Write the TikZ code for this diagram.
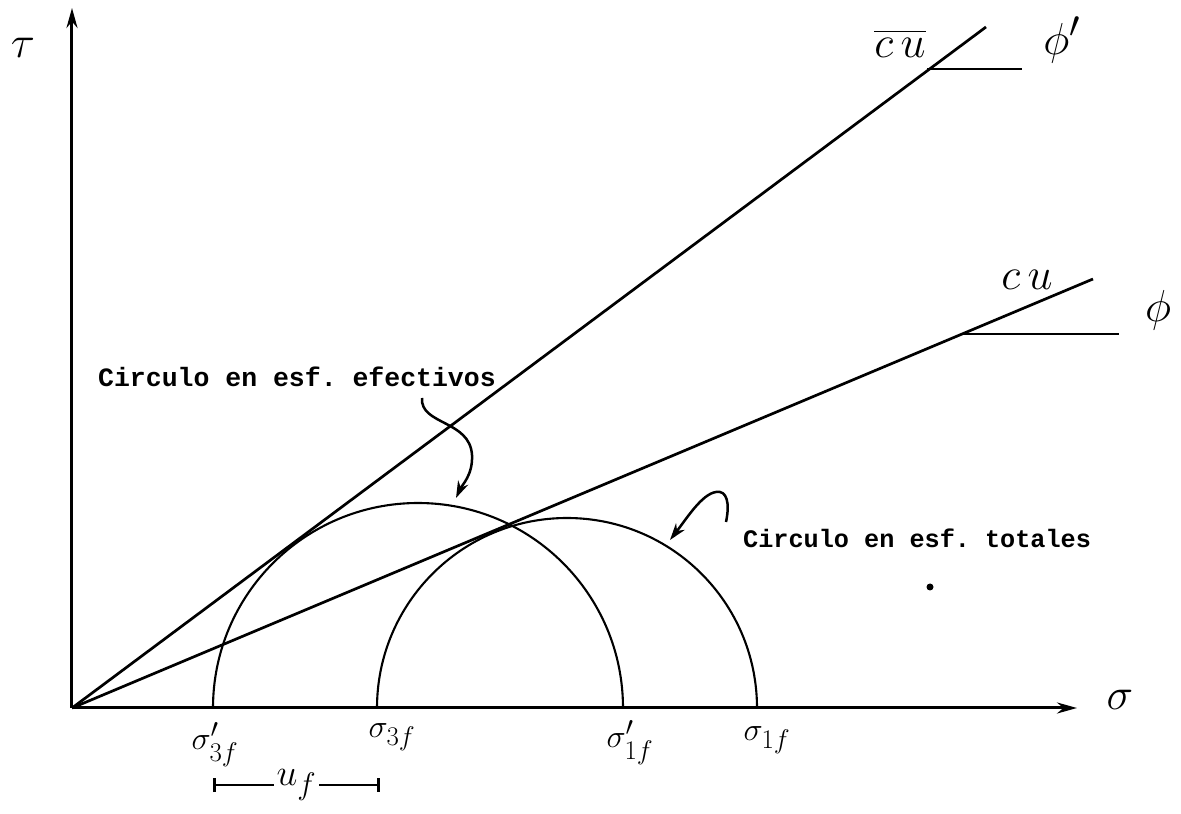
\documentclass[tikz,border=0pt]{standalone}
\usepackage{amsmath,amssymb}
\usepackage{fontspec}
\setmonofont{Liberation Mono}
\usetikzlibrary{arrows.meta, positioning}

\begin{document}
\begin{tikzpicture}[
            x=1pt, y=1pt,
            axis/.style={-{Stealth[length=20pt, width=11pt]}, line width=3pt},
            envelope/.style={line width=2.7pt},
            mohr/.style={line width=2.1pt},
            pointer/.style={-{Stealth[length=17pt, width=11pt]}, line width=2.5pt},
            note/.style={font=\fontsize{26.5}{28}\selectfont\ttfamily\bfseries, inner sep=0pt},
            sym/.style={font=\Huge, scale=1.3, inner sep=0pt},
            bigsym/.style={font=\Huge, scale=1.8, inner sep=0pt}
        ]

        \useasboundingbox (-72,-106) rectangle (1109,708);

        % Axes
        \coordinate (O) at (0,0);
        \coordinate (ytop) at (0,700);
        \coordinate (xend) at (1005,0);
        \draw[axis] (O) -- (ytop);
        \draw[axis] (O) -- (xend);
        \node[bigsym] (tau) at (-49,660) {$\tau$};
        \node[bigsym] (sig) at (1048,8) {$\sigma$};

        % Envelopes
        \coordinate (effend) at (914,681);
        \coordinate (totend) at (1021,429);
        \draw[envelope] (O) -- (effend);
        \draw[envelope] (O) -- (totend);

        \coordinate (phieffA) at (855,639);
        \coordinate (phieffB) at (950,639);
        \draw[envelope] (phieffA) -- (phieffB);
        \coordinate (phitotA) at (891,374);
        \coordinate (phitotB) at (1047,374);
        \draw[envelope] (phitotA) -- (phitotB);

        \node[bigsym] (cueff) at (828,665) {$\overline{c\,u}$};
        \node[bigsym] (phieff) at (990,668) {$\phi'$};
        \node[bigsym] (cutot) at (955,428) {$c\,u$};
        \node[bigsym] (phitot) at (1086,398) {$\phi$};

        % Mohr circles
        \coordinate (s3eff) at (141,0);
        \coordinate (s1eff) at (551,0);
        \coordinate (s3tot) at (305,0);
        \coordinate (s1tot) at (685,0);
        \draw[mohr] (s1eff) arc[start angle=0, end angle=180, radius=205pt];
        \draw[mohr] (s1tot) arc[start angle=0, end angle=180, radius=190pt];

        \node[sym] (s3effl) at (143,-37) {$\sigma'_{3f}$};
        \node[sym] (s3totl) at (320,-29) {$\sigma_{3f}$};
        \node[sym] (s1effl) at (558,-35) {$\sigma'_{1f}$};
        \node[sym] (s1totl) at (695,-32) {$\sigma_{1f}$};

        % Pore pressure
        \coordinate (uA) at (141,-77);
        \coordinate (uB) at (308,-77);
        \draw[line width=2.7pt, {Bar[width=14pt]}-{Bar[width=14pt]}] (uA) -- node[font=\Huge, scale=1.5, fill=white, inner sep=2pt] (uf) {$u_f$} (uB);

        % Notes
        \node[note, anchor=base west] (effnote) at (26,321) {Circulo en esf. efectivos};
        \node[note, anchor=base west, font=\fontsize{25.2}{28}\selectfont\ttfamily\bfseries] (totnote) at (671,160) {Circulo en esf. totales};

        \coordinate (effstart) at (350,310);
        \coordinate (efftip) at (384,210);
        \draw[pointer] (effstart) .. controls (348,283) and (398,288) .. (400,253)
            .. controls (401,233) and (390,223) .. (efftip);

        \coordinate (totstart) at (654,186);
        \coordinate (tottip) at (598,168);
        \draw[pointer] (totstart) .. controls (658,205) and (655,218) .. (644,216)
            .. controls (630,214) and (615,190) .. (tottip);

        \fill (858,121) circle (3.5pt);

        \end{tikzpicture}
\end{document}
